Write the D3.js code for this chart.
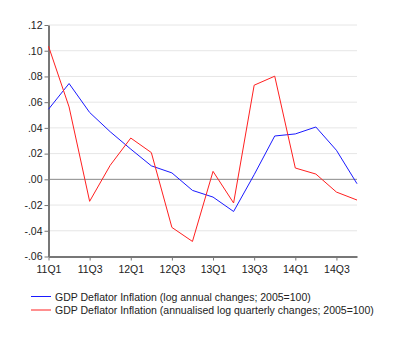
<!DOCTYPE html>
<html><head><meta charset="utf-8">
<script src="https://cdn.jsdelivr.net/npm/d3@7"></script>
<style>body{margin:0;background:#fff}svg{display:block}</style>
</head><body>
<svg id="c" width="400" height="341"></svg>
<script>
const quarters = ["11Q1","11Q2","11Q3","11Q4","12Q1","12Q2","12Q3","12Q4","13Q1","13Q2","13Q3","13Q4","14Q1","14Q2","14Q3","14Q4"];
const annual = [0.0545,0.0745,0.052,0.037,0.0235,0.0105,0.005,-0.0086,-0.0138,-0.025,0.0036,0.0337,0.0353,0.0407,0.0226,-0.0034];
const quarterly = [0.1035,0.0563,-0.0171,0.0109,0.0321,0.0208,-0.0374,-0.0483,0.0062,-0.0184,0.0732,0.0802,0.0088,0.0041,-0.0099,-0.0161];
const yTicks = [0.12,0.10,0.08,0.06,0.04,0.02,0.00,-0.02,-0.04,-0.06];
const xTickLabels = ["11Q1","11Q3","12Q1","12Q3","13Q1","13Q3","14Q1","14Q3"];
const seriesNames = ["GDP Deflator Inflation (log annual changes; 2005=100)","GDP Deflator Inflation (annualised log quarterly changes; 2005=100)"];
const colors = ["#1a1aff","#ff2020"];

const svg = d3.select("#c");
const L = 48.5, R = 357, T = 25, B = 256.5;
const FS = 10.5, FF = "Liberation Sans, Arial, sans-serif";
const x = d3.scalePoint().domain(quarters).range([L, R]);
const y = d3.scaleLinear().domain([-0.06, 0.12]).range([B, T]);
const fmt = v => { const s = Math.abs(v).toFixed(2).replace(/^0/, ""); return (v < -1e-9 ? "-" : "") + s; };

// gridlines
svg.append("g").selectAll("line").data(yTicks).join("line")
  .attr("x1", L).attr("x2", R).attr("y1", d => y(d)).attr("y2", d => y(d))
  .attr("stroke", d => Math.abs(d) < 1e-9 ? "#888" : "#e6e6e6").attr("stroke-width", 1);

// y axis
const ya = svg.append("g").attr("transform", `translate(${L},0)`)
  .call(d3.axisLeft(y).tickValues(yTicks).tickFormat(fmt).tickSize(4).tickSizeOuter(0));
ya.select(".domain").attr("stroke", "#777").attr("stroke-width", 2);
ya.selectAll(".tick line").attr("stroke", "#777");
ya.selectAll("text").attr("font-family", FF).attr("font-size", FS).attr("fill", "#222").attr("x", -6);

// x axis
const xa = svg.append("g").attr("transform", `translate(0,${B})`)
  .call(d3.axisBottom(x).tickValues(xTickLabels).tickSize(4).tickSizeOuter(0));
xa.select(".domain").attr("stroke", "#777").attr("stroke-width", 2);
xa.selectAll(".tick line").attr("stroke", "#777");
xa.selectAll("text").attr("font-family", FF).attr("font-size", FS).attr("fill", "#222").attr("dy", "0.9em");

const line = d3.line().x((d, i) => x(quarters[i])).y(d => y(d));
[annual, quarterly].forEach((s, k) => {
  svg.append("path").datum(s).attr("d", line).attr("fill", "none")
    .attr("stroke", colors[k]).attr("stroke-width", 1);
});

// legend
const lg = svg.append("g");
seriesNames.forEach((n, k) => {
  const yy = 296.5 + k * 13.5;
  lg.append("line").attr("x1", 31).attr("x2", 51).attr("y1", yy).attr("y2", yy).attr("stroke", colors[k]).attr("stroke-width", 1);
  lg.append("text").attr("x", 55).attr("y", yy + 4).attr("font-family", FF)
    .attr("font-size", FS).attr("fill", "#222").text(n);
});
</script>
</body></html>
